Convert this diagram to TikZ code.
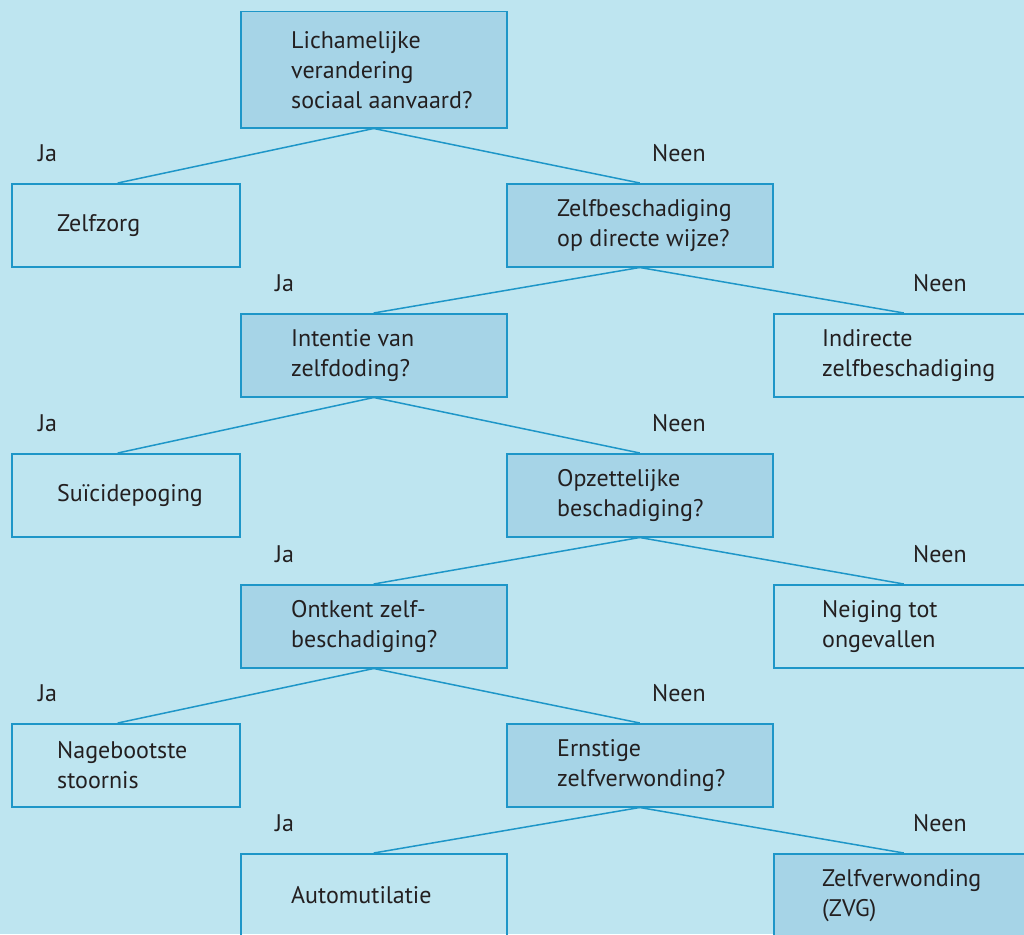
\documentclass[tikz,border=0pt]{standalone}
\usepackage{fontspec}
\setmainfont{PT Sans}
\usepackage{tikz}
\usetikzlibrary{positioning}
\definecolor{bgblue}{HTML}{BEE5F0}
\definecolor{qblue}{HTML}{A6D4E7}
\definecolor{lineblue}{HTML}{1E96C8}
\definecolor{inkgrey}{HTML}{231F20}

\begin{document}
\begin{tikzpicture}[x=1pt,y=-1pt,box/.style={draw=lineblue,line width=1.5pt,anchor=north west,minimum height=83pt,inner sep=0pt},qbox/.style={box,fill=qblue,minimum width=266pt},abox/.style={box,minimum width=266pt},lbox/.style={box,minimum width=228pt},txt/.style={anchor=west,align=left,inner sep=0pt,text=inkgrey,font=\fontsize{24}{30}\selectfont},yn/.style={anchor=west,inner sep=0pt,text=inkgrey,font=\fontsize{24}{30}\selectfont},link/.style={draw=lineblue,line width=1.5pt}]
  \useasboundingbox[fill=bgblue] (0,0) rectangle (1024,934);

  % questions
  \node[qbox,minimum height=116pt] (q1) at (240,11) {};
  \node[qbox] (q2) at (506,183) {};
  \node[qbox] (q3) at (240,313) {};
  \node[qbox] (q4) at (506,453) {};
  \node[qbox] (q5) at (240,584) {};
  \node[qbox] (q6) at (506,723) {};

  % outcomes
  \node[lbox] (a1) at (11,183) {};
  \node[abox] (a2) at (773,313) {};
  \node[lbox] (a3) at (11,453) {};
  \node[abox] (a4) at (773,584) {};
  \node[lbox] (a5) at (11,723) {};
  \node[abox] (a6) at (240,853) {};
  \node[qbox] (a7) at (773,853) {};

  % texts
  \node[txt] (q1t) at ([xshift=51pt]q1.west) {Lichamelijke\\verandering\\sociaal aanvaard?};
  \node[txt] (q2t) at ([xshift=51pt]q2.west) {Zelfbeschadiging\\op directe wijze?};
  \node[txt] (q3t) at ([xshift=51pt]q3.west) {Intentie van\\zelfdoding?};
  \node[txt] (q4t) at ([xshift=51pt]q4.west) {Opzettelijke\\beschadiging?};
  \node[txt] (q5t) at ([xshift=51pt]q5.west) {Ontkent zelf-\\beschadiging?};
  \node[txt] (q6t) at ([xshift=51pt]q6.west) {Ernstige\\zelfverwonding?};
  \node[txt] (a1t) at ([xshift=46pt]a1.west) {Zelfzorg};
  \node[txt] (a2t) at ([xshift=49pt]a2.west) {Indirecte\\zelfbeschadiging};
  \node[txt] (a3t) at ([xshift=46pt]a3.west) {Suïcidepoging};
  \node[txt] (a4t) at ([xshift=49pt]a4.west) {Neiging tot\\ongevallen};
  \node[txt] (a5t) at ([xshift=46pt]a5.west) {Nagebootste\\stoornis};
  \node[txt] (a6t) at ([xshift=51pt]a6.west) {Automutilatie};
  \node[txt] (a7t) at ([xshift=49pt]a7.west) {Zelfverwonding\\(ZVG)};

  % Ja / Neen
  \node[yn] (j1) at (38,153) {Ja};
  \node[yn] (n1) at (652,153) {Neen};
  \node[yn] (j2) at (275,283) {Ja};
  \node[yn] (n2) at (913,283) {Neen};
  \node[yn] (j3) at (38,423) {Ja};
  \node[yn] (n3) at (652,423) {Neen};
  \node[yn] (j4) at (275,554) {Ja};
  \node[yn] (n4) at (913,554) {Neen};
  \node[yn] (j5) at (38,693) {Ja};
  \node[yn] (n5) at (652,693) {Neen};
  \node[yn] (j6) at (275,823) {Ja};
  \node[yn] (n6) at (913,823) {Neen};

  \draw[link] (q1.south) -- ([xshift=-8pt]a1.north);
  \draw[link] (q1.south) -- (q2.north);
  \draw[link] (q2.south) -- (q3.north);
  \draw[link] (q2.south) -- ([xshift=-3pt]a2.north);
  \draw[link] (q3.south) -- ([xshift=-8pt]a3.north);
  \draw[link] (q3.south) -- (q4.north);
  \draw[link] (q4.south) -- (q5.north);
  \draw[link] (q4.south) -- ([xshift=-3pt]a4.north);
  \draw[link] (q5.south) -- ([xshift=-8pt]a5.north);
  \draw[link] (q5.south) -- (q6.north);
  \draw[link] (q6.south) -- (a6.north);
  \draw[link] (q6.south) -- ([xshift=-3pt]a7.north);
\end{tikzpicture}
\end{document}
